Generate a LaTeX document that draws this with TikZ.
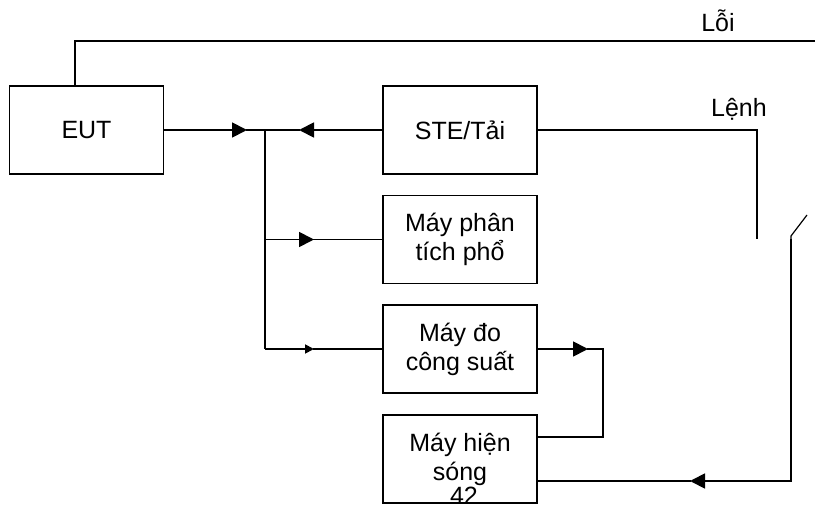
\documentclass[tikz,border=0pt]{standalone}
\usepackage{fontspec}
\setmainfont{Liberation Sans}
\usetikzlibrary{arrows.meta}
\begin{document}
\begin{tikzpicture}[x=1pt,y=-1pt,line width=1.2pt]
	\tikzstyle{block}=[draw,shape=rectangle,minimum width=154pt,minimum height=88pt,align=center,font=\fontsize{25}{29}\selectfont]
	\tikzstyle{lbl}=[font=\fontsize{25}{29}\selectfont,anchor=base]
	\tikzstyle{big}=[-{Triangle[length=15pt,width=15pt]},line width=1.8pt,shorten >=-1pt]
	\tikzstyle{small}=[-{Triangle[length=9pt,width=9pt]},line width=1.8pt,shorten >=-1pt]
	\useasboundingbox (0,0) rectangle (815,508);

	\node[block](eut) at (86.5,130){EUT};
	\node[block](ste) at (460,130){STE/Tải};
	\node[block](spec) at (460,239.5){Máy phân\\tích phổ};
	\node[block](pwr) at (460,349){Máy đo\\công suất};
	\node[block](osc) at (460,459){Máy hiện\\sóng};

	\node[lbl](loi) at (718,32){Lỗi};
	\node[lbl](lenh) at (739,117){Lệnh};
	\node[lbl,inner sep=0pt](pg) at (464,504){42};

	% bus
	\coordinate (j1) at (265,130);
	\coordinate (j2) at (265,239.5);
	\coordinate (j3) at (265,349);
	\coordinate (a1) at (246,130);
	\coordinate (a2) at (300,130);
	\coordinate (a3) at (313,239.5);
	\coordinate (a4) at (313,349);

	\draw[big] (eut) -- (a1);
	\draw (a1) -- (j1);
	\draw[big] (ste) -- (a2);
	\draw (a2) -- (j1) -- (j3);
	\draw[big] (j2) -- (a3);
	\draw (a3) -- (spec);
	\draw[small] (j3) -- (a4);
	\draw (a4) -- (pwr);

	% power meter to scope
	\coordinate (a5) at (587,349);
	\coordinate (c1) at (603,349);
	\coordinate (c2) at (603,437);
	\draw[big] (pwr) -- (a5);
	\draw (a5) -- (c1) -- (c2) -- (osc.east |- c2);

	% fault line
	\coordinate (l0) at (75,41);
	\coordinate (l1) at (815,41);
	\draw (eut.north -| l0) -- (l0) -- (l1);

	% command line and switch
	\coordinate (s0) at (757,130);
	\coordinate (s1) at (757,239);
	\coordinate (s2) at (791,239);
	\coordinate (s3) at (807,215);
	\coordinate (s4) at (791,481);
	\coordinate (a6) at (691,481);
	\draw (ste) -- (s0) -- (s1);
	\draw (s3) -- (791,236) -- (s2);
	\draw[big] (s2) -- (s4) -- (a6);
	\draw (a6) -- (osc.east |- a6);
\end{tikzpicture}
\end{document}
